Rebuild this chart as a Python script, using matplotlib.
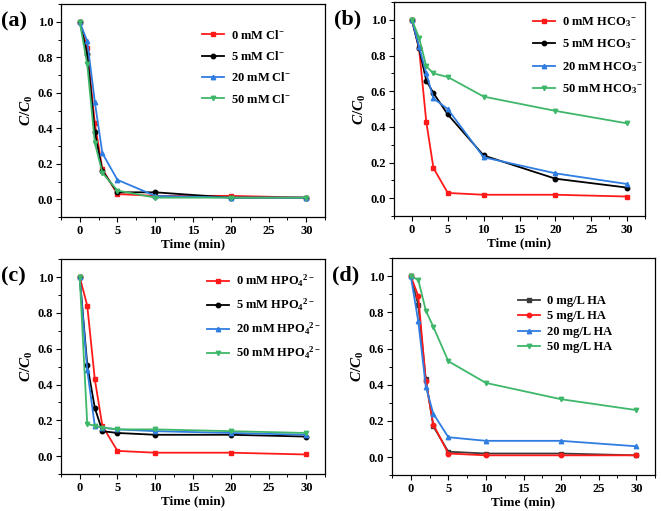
import matplotlib
matplotlib.use("Agg")
import matplotlib.pyplot as plt
from matplotlib.ticker import MultipleLocator, FormatStrFormatter

plt.rcParams['font.family'] = ['Liberation Serif', 'DejaVu Serif']
plt.rcParams['font.weight'] = 'bold'
plt.rcParams['mathtext.fontset'] = 'custom'
plt.rcParams['mathtext.rm'] = 'Liberation Serif:bold'
plt.rcParams['mathtext.it'] = 'Liberation Serif:italic:bold'
plt.rcParams['mathtext.bf'] = 'Liberation Serif:bold'

time = [0, 1, 2, 3, 5, 10, 20, 30]

# (a) chloride
labels_a = ["0 mM Cl$^{-}$", "5 mM Cl$^{-}$", "20 mM Cl$^{-}$", "50 mM Cl$^{-}$"]
a_0 = [1.0, 0.85, 0.43, 0.17, 0.03, 0.02, 0.02, 0.01]
a_5 = [1.0, 0.82, 0.38, 0.16, 0.04, 0.04, 0.01, 0.01]
a_20 = [1.0, 0.89, 0.55, 0.26, 0.11, 0.02, 0.01, 0.01]
a_50 = [1.0, 0.76, 0.32, 0.15, 0.05, 0.01, 0.01, 0.01]

# (b) bicarbonate
labels_b = ["0 mM HCO$_3$$^{-}$", "5 mM HCO$_3$$^{-}$", "20 mM HCO$_3$$^{-}$", "50 mM HCO$_3$$^{-}$"]
b_0 = [1.0, 0.84, 0.43, 0.17, 0.03, 0.02, 0.02, 0.01]
b_5 = [1.0, 0.84, 0.66, 0.59, 0.47, 0.24, 0.11, 0.06]
b_20 = [1.0, 0.85, 0.70, 0.56, 0.50, 0.23, 0.14, 0.08]
b_50 = [1.0, 0.90, 0.74, 0.70, 0.68, 0.57, 0.49, 0.42]

# (c) hydrogen phosphate
labels_c = ["0 mM HPO$_4$$^{2-}$", "5 mM HPO$_4$$^{2-}$", "20 mM HPO$_4$$^{2-}$", "50 mM HPO$_4$$^{2-}$"]
c_0 = [1.0, 0.84, 0.43, 0.17, 0.03, 0.02, 0.02, 0.01]
c_5 = [1.0, 0.51, 0.27, 0.14, 0.13, 0.12, 0.12, 0.11]
c_20 = [1.0, 0.48, 0.17, 0.16, 0.15, 0.14, 0.13, 0.12]
c_50 = [1.0, 0.18, 0.17, 0.16, 0.15, 0.15, 0.14, 0.13]

# (d) humic acid
labels_d = ["0 mg/L HA", "5 mg/L HA", "20 mg/L HA", "50 mg/L HA"]
d_0 = [1.0, 0.84, 0.43, 0.17, 0.03, 0.02, 0.02, 0.01]
d_5 = [1.0, 0.89, 0.42, 0.18, 0.02, 0.01, 0.01, 0.01]
d_20 = [1.0, 0.75, 0.39, 0.24, 0.11, 0.09, 0.09, 0.06]
d_50 = [1.0, 0.98, 0.81, 0.72, 0.53, 0.41, 0.32, 0.26]

RED = '#ff1a1a'
BLACK = '#000000'
BLUE = '#2f7de1'
GREEN = '#3fb76a'
GRAY = '#3a3a3a'

# tag, axes rect, labels, series, colours, legend anchor, labelspacing
panels = [
    ("(a)", [0.092, 0.575, 0.400, 0.417], labels_a, [a_0, a_5, a_20, a_50],
     [RED, BLACK, BLUE, GREEN], (0.534, 0.885), 0.67),
    ("(b)", [0.596, 0.577, 0.380, 0.419], labels_b, [b_0, b_5, b_20, b_50],
     [RED, BLACK, BLUE, GREEN], (0.554, 0.94), 0.7),
    ("(c)", [0.092, 0.072, 0.400, 0.421], labels_c, [c_0, c_5, c_20, c_50],
     [RED, BLACK, BLUE, GREEN], (0.553, 0.935), 0.6),
    ("(d)", [0.593, 0.070, 0.398, 0.425], labels_d, [d_0, d_5, d_20, d_50],
     [GRAY, RED, BLUE, GREEN], (0.479, 0.83), 0.28),
]
markers = ['s', 'o', '^', 'v']

fig = plt.figure(figsize=(6.61, 5.11), dpi=100)

for tag, rect, labels, series, colors, anchor, lspace in panels:
    ax = fig.add_axes(rect)
    for lab, ys, col, mk in zip(labels, series, colors, markers):
        ax.plot(time, ys, color=col, marker=mk, markersize=3.2, linewidth=1.3, label=lab)
    ax.set_xlim(-2.5, 32.5)
    ax.set_ylim(-0.1, 1.1)
    ax.xaxis.set_major_locator(MultipleLocator(5))
    ax.xaxis.set_minor_locator(MultipleLocator(2.5))
    ax.yaxis.set_major_locator(MultipleLocator(0.2))
    ax.yaxis.set_minor_locator(MultipleLocator(0.1))
    ax.yaxis.set_major_formatter(FormatStrFormatter('%.1f'))
    ax.tick_params(which='major', direction='out', length=3.5, width=0.8, labelsize=9, pad=2)
    ax.tick_params(which='minor', direction='out', length=2, width=0.7)
    for lbl in ax.get_xticklabels() + ax.get_yticklabels():
        lbl.set_fontweight('bold')
    for s in ax.spines.values():
        s.set_linewidth(0.9)
    ax.set_xlabel("Time (min)", fontsize=9.5, fontweight='bold', labelpad=1)
    ax.set_ylabel("$C/C_0$", fontsize=11, labelpad=2)
    ax.legend(loc='upper left', frameon=False, prop={'size': 9, 'weight': 'bold'},
              handlelength=1.75, handletextpad=0.55, labelspacing=lspace,
              borderpad=0, borderaxespad=0, bbox_to_anchor=anchor)
    pos = ax.get_position()
    fig.text(pos.x0 - 0.09, pos.y1 - 0.035, tag, fontsize=16, fontweight='bold',
             va='center', ha='left')

fig.savefig("out.png", dpi=100)
